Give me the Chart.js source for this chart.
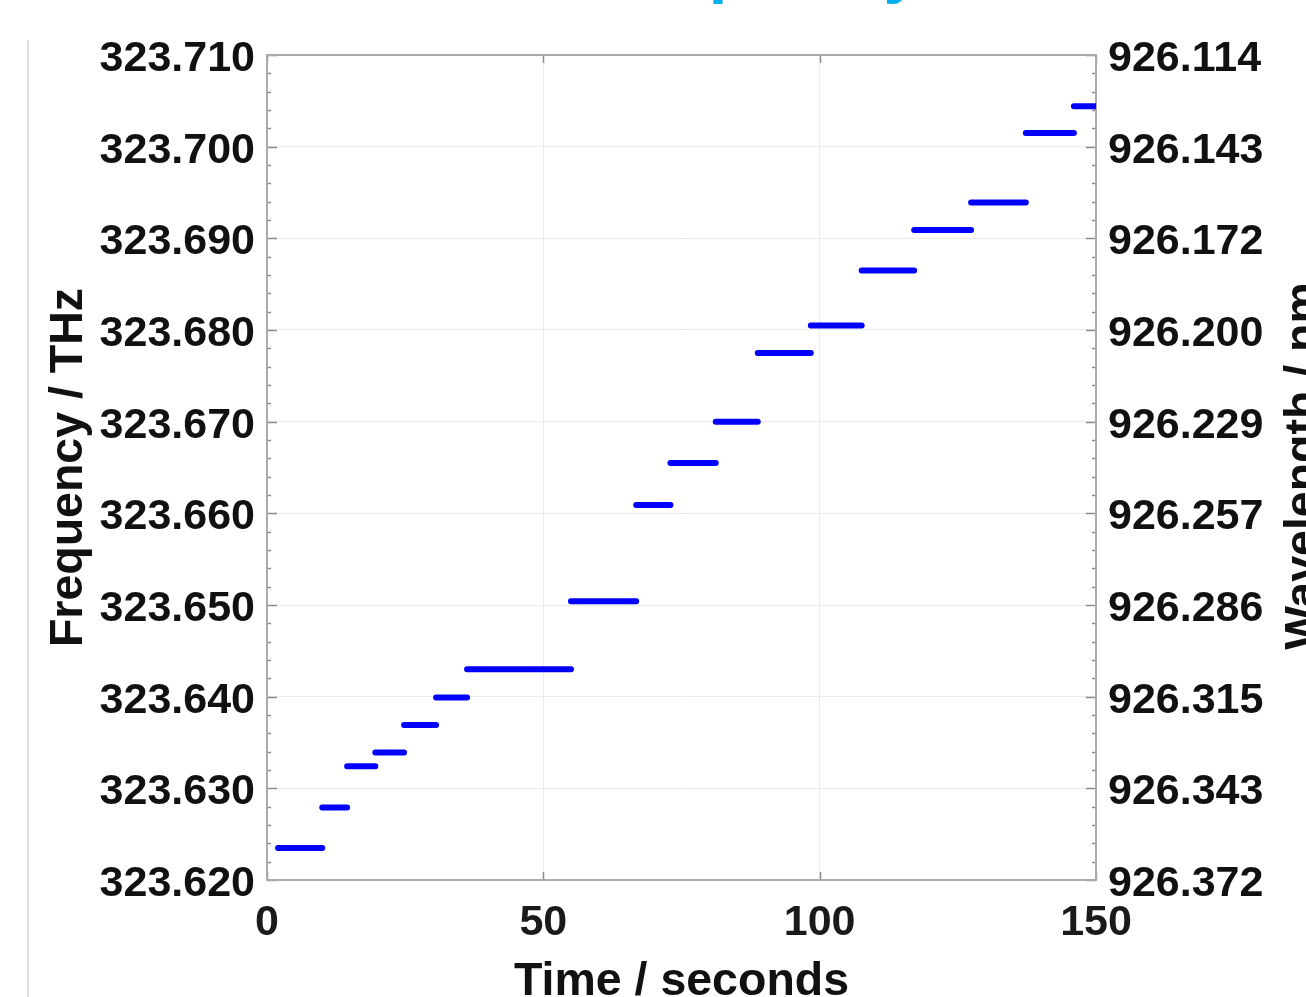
<!DOCTYPE html>
<html>
<head>
<meta charset="utf-8">
<script src="https://cdn.jsdelivr.net/npm/chart.js@4.4.1/dist/chart.umd.min.js"></script>
<style>
  html, body { margin:0; padding:0; background:#fff; }
  #wrap { position:relative; width:1306px; height:997px; overflow:hidden; }
  #edge { position:absolute; left:27px; top:40px; width:2px; height:957px; background:#dedede; }
  canvas { position:absolute; left:0; top:0; }
</style>
</head>
<body>
<div id="wrap">
  <canvas id="chart" width="1306" height="997"></canvas>
  <div id="edge"></div>
</div>
<script>
// ── Data: frequency steps (start / end time in s, frequency in THz) ──
const stepStart = [2, 10, 14.5, 19.6, 24.8, 30.6, 36.2, 55, 66.8, 73, 81.2, 88.8, 98.4, 107.6, 117.1, 127.4, 137.3, 146];
const stepEnd   = [10, 14.5, 19.6, 24.8, 30.6, 36.2, 55, 66.8, 73, 81.2, 88.8, 98.4, 107.6, 117.1, 127.4, 137.3, 146, 150];
const stepFreq  = [323.6235, 323.6279, 323.6324, 323.6339, 323.6369, 323.6399, 323.6430, 323.6504, 323.6609,
                   323.6655, 323.6700, 323.6775, 323.6805, 323.6865, 323.6909, 323.6939, 323.7015, 323.7044];

const freqTickLabels = ['323.620','323.630','323.640','323.650','323.660','323.670','323.680','323.690','323.700','323.710'];
const waveTickLabels = ['926.372','926.343','926.315','926.286','926.257','926.229','926.200','926.172','926.143','926.114'];

const fMin = 323.62, fMax = 323.71;

// build line data, nulls break the line between steps
const lineData = [];
stepFreq.forEach((f, i) => {
  lineData.push({ x: stepStart[i], y: f });
  lineData.push({ x: stepEnd[i], y: f });
  lineData.push({ x: stepEnd[i], y: null });
});

const tickFont = { family:'"Liberation Sans", Arial, sans-serif', size:43, weight:'bold' };
const titleFont = { family:'"Liberation Sans", Arial, sans-serif', size:46.5, weight:'bold' };

const isMajor = v => Math.round(v * 1000) % 10 === 0;
const majorIndex = v => Math.round((v - fMin) * 100);

// ── Frame, inward ticks and extra texts ──
const framePlugin = {
  id: 'frame',
  beforeDatasetsDraw(chart) {
    const { ctx, chartArea: a, scales } = chart;
    ctx.save();
    ctx.strokeStyle = '#8c8c8c';
    ctx.lineWidth = 1.5;
    ctx.beginPath();
    scales.y.ticks.forEach(t => {
      const py = Math.round(scales.y.getPixelForValue(t.value)) + 0.5;
      const len = isMajor(t.value) ? 10 : 4;
      ctx.moveTo(a.left, py); ctx.lineTo(a.left + len, py);
      ctx.moveTo(a.right, py); ctx.lineTo(a.right - len, py);
    });
    scales.x.ticks.forEach(t => {
      const px = Math.round(scales.x.getPixelForValue(t.value)) + 0.5;
      ctx.moveTo(px, a.bottom); ctx.lineTo(px, a.bottom - 8);
      ctx.moveTo(px, a.top); ctx.lineTo(px, a.top + 8);
    });
    ctx.stroke();
    ctx.strokeStyle = '#ababab';
    ctx.lineWidth = 2;
    ctx.strokeRect(a.left, a.top, a.right - a.left, a.bottom - a.top);
    ctx.restore();
  },
  afterDraw(chart) {
    const { ctx } = chart;
    ctx.save();
    // right axis title, read bottom to top like the left one
    ctx.font = 'bold 46.5px "Liberation Sans", Arial, sans-serif';
    ctx.fillStyle = '#111';
    ctx.translate(1317, 466);
    ctx.rotate(-Math.PI / 2);
    ctx.textAlign = 'center';
    ctx.textBaseline = 'alphabetic';
    ctx.fillText('Wavelength / nm', 0, 0);
    ctx.restore();
    // cut-off heading at the very top
    ctx.save();
    ctx.font = 'bold 67px "Liberation Sans", Arial, sans-serif';
    ctx.fillStyle = '#00aeef';
    ctx.textBaseline = 'alphabetic';
    ctx.fillText('Frequency', 582, -10);
    ctx.restore();
  }
};

new Chart(document.getElementById('chart'), {
  type: 'line',
  data: {
    datasets: [{
      data: lineData,
      borderColor: '#0000ff',
      borderWidth: 6,
      borderCapStyle: 'round',
      pointRadius: 0,
      spanGaps: false,
      tension: 0
    }]
  },
  options: {
    responsive: false,
    animation: false,
    devicePixelRatio: 1,
    layout: { padding: { top: 55, left: 0, right: 0, bottom: 0 } },
    plugins: { legend: { display: false }, tooltip: { enabled: false } },
    scales: {
      x: {
        type: 'linear', min: 0, max: 150,
        ticks: { stepSize: 50, font: tickFont, color: '#1a1a1a', padding: 17, maxRotation: 0 },
        grid: { color: '#ebebeb', drawTicks: false },
        border: { display: false },
        title: { display: true, text: 'Time / seconds', font: titleFont, color: '#111', padding: { top: 0, bottom: -13 } },
        afterFit: s => { s.height = 117; }
      },
      y: {
        type: 'linear', position: 'left', min: fMin, max: fMax,
        ticks: {
          stepSize: 0.002, autoSkip: false, font: tickFont, color: '#111', padding: 12, labelOffset: 4,
          callback: v => isMajor(v) ? freqTickLabels[majorIndex(v)] : ''
        },
        grid: { color: c => isMajor(c.tick.value) ? '#ebebeb' : 'rgba(0,0,0,0)', drawTicks: false },
        border: { display: false },
        title: { display: true, text: 'Frequency / THz', font: titleFont, color: '#111', padding: { top: 41, bottom: 0 } },
        afterFit: s => { s.width = 267; }
      },
      y2: {
        type: 'linear', position: 'right', min: fMin, max: fMax,
        ticks: {
          stepSize: 0.01, autoSkip: false, font: tickFont, color: '#111', padding: 12, labelOffset: 4,
          callback: v => waveTickLabels[majorIndex(v)]
        },
        grid: { display: false, drawTicks: false },
        border: { display: false },
        afterFit: s => { s.width = 210; }
      }
    }
  },
  plugins: [framePlugin]
});
</script>
</body>
</html>
